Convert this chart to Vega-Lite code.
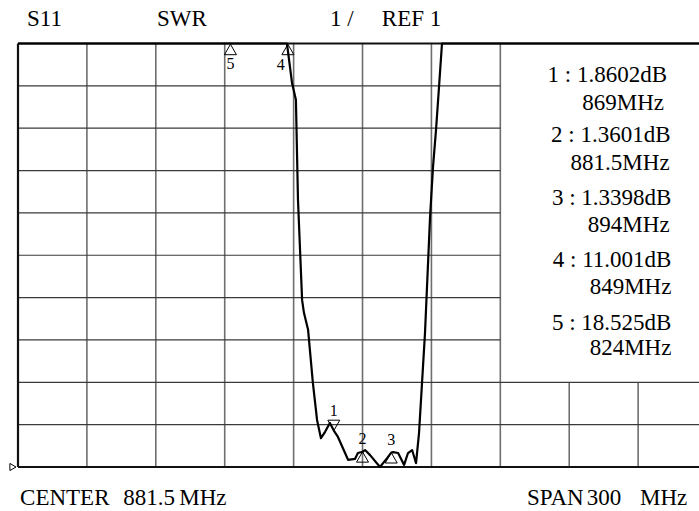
{
  "$schema": "https://vega.github.io/schema/vega-lite/v6.json",
  "width": 681,
  "height": 423.5,
  "autosize": {"type": "none"},
  "padding": {"left": 18, "top": 43.5, "right": 0, "bottom": 44},
  "background": "white",
  "config": {"view": {"stroke": null}, "text": {"font": "Liberation Serif", "color": "black"}},
  "resolve": {"scale": {"y": "independent"}},
  "datasets": {
    "grid": [
      {"dir": "v", "x1": 761.5, "x2": 761.5, "y1": 1, "y2": 11},
      {"dir": "v", "x1": 791.5, "x2": 791.5, "y1": 1, "y2": 11},
      {"dir": "v", "x1": 821.5, "x2": 821.5, "y1": 1, "y2": 11},
      {"dir": "v", "x1": 851.5, "x2": 851.5, "y1": 1, "y2": 11},
      {"dir": "v", "x1": 881.5, "x2": 881.5, "y1": 1, "y2": 11},
      {"dir": "v", "x1": 911.5, "x2": 911.5, "y1": 1, "y2": 11},
      {"dir": "v", "x1": 941.5, "x2": 941.5, "y1": 1, "y2": 11},
      {"dir": "v", "x1": 971.5, "x2": 971.5, "y1": 1, "y2": 3},
      {"dir": "v", "x1": 1001.5, "x2": 1001.5, "y1": 1, "y2": 3},
      {"dir": "h", "x1": 731.5, "x2": 1028, "y1": 2, "y2": 2},
      {"dir": "h", "x1": 731.5, "x2": 1028, "y1": 3, "y2": 3},
      {"dir": "h", "x1": 731.5, "x2": 941.5, "y1": 4, "y2": 4},
      {"dir": "h", "x1": 731.5, "x2": 941.5, "y1": 5, "y2": 5},
      {"dir": "h", "x1": 731.5, "x2": 941.5, "y1": 6, "y2": 6},
      {"dir": "h", "x1": 731.5, "x2": 941.5, "y1": 7, "y2": 7},
      {"dir": "h", "x1": 731.5, "x2": 941.5, "y1": 8, "y2": 8},
      {"dir": "h", "x1": 731.5, "x2": 941.5, "y1": 9, "y2": 9},
      {"dir": "h", "x1": 731.5, "x2": 941.5, "y1": 10, "y2": 10}
    ],
    "frame": [
      {"x1": 731.5, "x2": 1028, "y1": 11, "y2": 11},
      {"x1": 731.5, "x2": 731.5, "y1": 1, "y2": 11},
      {"x1": 731.5, "x2": 1028, "y1": 1, "y2": 1}
    ],
    "trace": [
      {"f": 731.5, "s": 30}, {"f": 760, "s": 28}, {"f": 790, "s": 24}, {"f": 810, "s": 21},
      {"f": 824, "s": 18.525}, {"f": 835, "s": 15.5}, {"f": 843, "s": 13}, {"f": 847.5, "s": 11.6},
      {"f": 848.6, "s": 11.0}, {"f": 850.8, "s": 10.07}, {"f": 852.5, "s": 9.67}, {"f": 853.4, "s": 7.31},
      {"f": 855.2, "s": 4.94}, {"f": 856.0, "s": 4.64}, {"f": 857.8, "s": 4.24}, {"f": 859.9, "s": 2.98},
      {"f": 861.7, "s": 2.11}, {"f": 863.4, "s": 1.68}, {"f": 865.2, "s": 1.83}, {"f": 867.3, "s": 2.04},
      {"f": 869.0, "s": 1.86}, {"f": 870.8, "s": 1.71}, {"f": 873.9, "s": 1.33}, {"f": 875.2, "s": 1.17},
      {"f": 878.2, "s": 1.19}, {"f": 879.5, "s": 1.33}, {"f": 881.5, "s": 1.36}, {"f": 882.6, "s": 1.40},
      {"f": 884.8, "s": 1.28}, {"f": 889.1, "s": 1.0}, {"f": 892.2, "s": 1.21}, {"f": 894.0, "s": 1.34},
      {"f": 894.8, "s": 1.35}, {"f": 897.0, "s": 1.33}, {"f": 899.6, "s": 1.05}, {"f": 901.3, "s": 1.33},
      {"f": 903.1, "s": 1.40}, {"f": 904.8, "s": 1.09}, {"f": 906.1, "s": 1.80}, {"f": 908.7, "s": 4.16},
      {"f": 910.9, "s": 6.90}, {"f": 912.2, "s": 8.09}, {"f": 913.5, "s": 8.96}, {"f": 914.8, "s": 9.97},
      {"f": 916.1, "s": 11.0}, {"f": 917.5, "s": 11.8}, {"f": 925, "s": 14}, {"f": 950, "s": 20},
      {"f": 990, "s": 26}, {"f": 1028, "s": 30}
    ],
    "markers": [
      {"m": "1", "f": 869, "s": 1.8602},
      {"m": "2", "f": 881.5, "s": 1.3601},
      {"m": "3", "f": 894, "s": 1.3398},
      {"m": "4", "f": 849, "s": 11.001},
      {"m": "5", "f": 824, "s": 18.525}
    ],
    "headers": [
      {"t": "S11", "f": 735.4, "s": 11.42},
      {"t": "SWR", "f": 792.0, "s": 11.42},
      {"t": "1 /", "f": 867.3, "s": 11.42},
      {"t": "REF 1", "f": 889.9, "s": 11.42},
      {"t": "CENTER", "f": 732.4, "s": 0.1},
      {"t": "881.5", "f": 777.3, "s": 0.1},
      {"t": "MHz", "f": 801.7, "s": 0.1},
      {"t": "SPAN", "f": 953.1, "s": 0.1},
      {"t": "300", "f": 979.1, "s": 0.1},
      {"t": "MHz", "f": 1002.3, "s": 0.1}
    ],
    "readout": [
      {"t": "1 :  1.8602dB", "f": 1014.1, "s": 10.26},
      {"t": "869MHz", "f": 1012.8, "s": 9.60},
      {"t": "2 :  1.3601dB", "f": 1015.6, "s": 8.84},
      {"t": "881.5MHz", "f": 1015.2, "s": 8.18},
      {"t": "3 :  1.3398dB", "f": 1016.0, "s": 7.35},
      {"t": "894MHz", "f": 1015.2, "s": 6.72},
      {"t": "4 :  11.001dB", "f": 1016.0, "s": 5.89},
      {"t": "849MHz", "f": 1016.0, "s": 5.25},
      {"t": "5 :  18.525dB", "f": 1016.0, "s": 4.40},
      {"t": "824MHz", "f": 1016.0, "s": 3.81}
    ],
    "refmark": [{"f": 729.3, "s": 1}]
  },
  "layer": [
    {
      "data": {"name": "grid"},
      "transform": [{"filter": "datum.dir == 'v'"}],
      "mark": {"type": "rule", "stroke": "#6e6e6e", "strokeWidth": 1.6},
      "encoding": {
        "x": {"field": "x1", "type": "quantitative", "scale": {"domain": [731.5, 1028], "nice": false, "zero": false}, "axis": null},
        "x2": {"field": "x2"},
        "y": {"field": "y1", "type": "quantitative", "scale": {"domain": [1, 11], "nice": false, "zero": false}, "axis": null},
        "y2": {"field": "y2"}
      }
    },
    {
      "data": {"name": "grid"},
      "transform": [{"filter": "datum.dir == 'h'"}],
      "mark": {"type": "rule", "stroke": "#3a3a3a", "strokeWidth": 1.2},
      "encoding": {
        "x": {"field": "x1", "type": "quantitative", "scale": {"domain": [731.5, 1028], "nice": false, "zero": false}, "axis": null},
        "x2": {"field": "x2"},
        "y": {"field": "y1", "type": "quantitative", "scale": {"domain": [1, 11], "nice": false, "zero": false}, "axis": null},
        "y2": {"field": "y2"}
      }
    },
    {
      "data": {"name": "frame"},
      "mark": {"type": "rule", "stroke": "#111111", "strokeWidth": 2.2},
      "encoding": {
        "x": {"field": "x1", "type": "quantitative", "scale": {"domain": [731.5, 1028], "nice": false, "zero": false}, "axis": null},
        "x2": {"field": "x2"},
        "y": {"field": "y1", "type": "quantitative", "scale": {"domain": [1, 11], "nice": false, "zero": false}, "axis": null},
        "y2": {"field": "y2"}
      }
    },
    {
      "data": {"name": "trace"},
      "mark": {"type": "line", "stroke": "black", "strokeWidth": 2.2, "strokeJoin": "round"},
      "encoding": {
        "x": {"field": "f", "type": "quantitative", "scale": {"domain": [731.5, 1028], "nice": false, "zero": false}, "axis": null},
        "y": {"field": "s", "type": "quantitative", "scale": {"domain": [1, 11], "nice": false, "zero": false, "clamp": true}, "axis": null}
      }
    },
    {
      "data": {"name": "markers"},
      "transform": [{"filter": "datum.m == '1'"}],
      "layer": [
        {"mark": {"type": "point", "shape": "triangle-down", "size": 144, "filled": false, "stroke": "black", "strokeWidth": 1, "yOffset": -5.2, "opacity": 1}},
        {"mark": {"type": "text", "fontSize": 16, "dy": -20, "baseline": "middle"}, "encoding": {"text": {"field": "m"}}}
      ],
      "encoding": {
        "x": {"field": "f", "type": "quantitative", "scale": {"domain": [731.5, 1028], "nice": false, "zero": false}, "axis": null},
        "y": {"field": "s", "type": "quantitative", "scale": {"domain": [1, 11], "nice": false, "zero": false, "clamp": true}, "axis": null}
      }
    },
    {
      "data": {"name": "markers"},
      "transform": [{"filter": "datum.m == '2' || datum.m == '3'"}],
      "layer": [
        {"mark": {"type": "point", "shape": "triangle-up", "size": 144, "filled": false, "stroke": "black", "strokeWidth": 1, "yOffset": 5.2, "opacity": 1}},
        {"mark": {"type": "text", "fontSize": 16, "dy": -13, "baseline": "middle"}, "encoding": {"text": {"field": "m"}}}
      ],
      "encoding": {
        "x": {"field": "f", "type": "quantitative", "scale": {"domain": [731.5, 1028], "nice": false, "zero": false}, "axis": null},
        "y": {"field": "s", "type": "quantitative", "scale": {"domain": [1, 11], "nice": false, "zero": false, "clamp": true}, "axis": null}
      }
    },
    {
      "data": {"name": "markers"},
      "transform": [{"filter": "datum.m == '5'"}],
      "layer": [
        {"mark": {"type": "point", "shape": "triangle-up", "size": 144, "filled": false, "stroke": "black", "strokeWidth": 1, "yOffset": 6, "opacity": 1}},
        {"mark": {"type": "text", "fontSize": 16, "dy": 20, "baseline": "middle"}, "encoding": {"text": {"field": "m"}}}
      ],
      "encoding": {
        "x": {"field": "f", "type": "quantitative", "scale": {"domain": [731.5, 1028], "nice": false, "zero": false}, "axis": null},
        "y": {"field": "s", "type": "quantitative", "scale": {"domain": [1, 11], "nice": false, "zero": false, "clamp": true}, "axis": null}
      }
    },
    {
      "data": {"name": "markers"},
      "transform": [{"filter": "datum.m == '4'"}],
      "layer": [
        {"mark": {"type": "point", "shape": "triangle-up", "size": 144, "filled": false, "stroke": "black", "strokeWidth": 1, "yOffset": 6, "opacity": 1}},
        {"mark": {"type": "text", "fontSize": 16, "dy": 21, "dx": -7, "baseline": "middle"}, "encoding": {"text": {"field": "m"}}}
      ],
      "encoding": {
        "x": {"field": "f", "type": "quantitative", "scale": {"domain": [731.5, 1028], "nice": false, "zero": false}, "axis": null},
        "y": {"field": "s", "type": "quantitative", "scale": {"domain": [1, 11], "nice": false, "zero": false, "clamp": true}, "axis": null}
      }
    },
    {
      "data": {"name": "headers"},
      "mark": {"type": "text", "align": "left", "baseline": "alphabetic", "fontSize": 23},
      "encoding": {
        "x": {"field": "f", "type": "quantitative", "scale": {"domain": [731.5, 1028], "nice": false, "zero": false}, "axis": null},
        "y": {"field": "s", "type": "quantitative", "scale": {"domain": [1, 11], "nice": false, "zero": false}, "axis": null},
        "text": {"field": "t"}
      }
    },
    {
      "data": {"name": "readout"},
      "mark": {"type": "text", "align": "right", "baseline": "middle", "fontSize": 23},
      "encoding": {
        "x": {"field": "f", "type": "quantitative", "scale": {"domain": [731.5, 1028], "nice": false, "zero": false}, "axis": null},
        "y": {"field": "s", "type": "quantitative", "scale": {"domain": [1, 11], "nice": false, "zero": false}, "axis": null},
        "text": {"field": "t"}
      }
    },
    {
      "data": {"name": "refmark"},
      "mark": {"type": "point", "shape": "triangle-right", "size": 50, "filled": false, "stroke": "black", "strokeWidth": 1, "opacity": 1},
      "encoding": {
        "x": {"field": "f", "type": "quantitative", "scale": {"domain": [731.5, 1028], "nice": false, "zero": false}, "axis": null},
        "y": {"field": "s", "type": "quantitative", "scale": {"domain": [1, 11], "nice": false, "zero": false}, "axis": null}
      }
    }
  ]
}
